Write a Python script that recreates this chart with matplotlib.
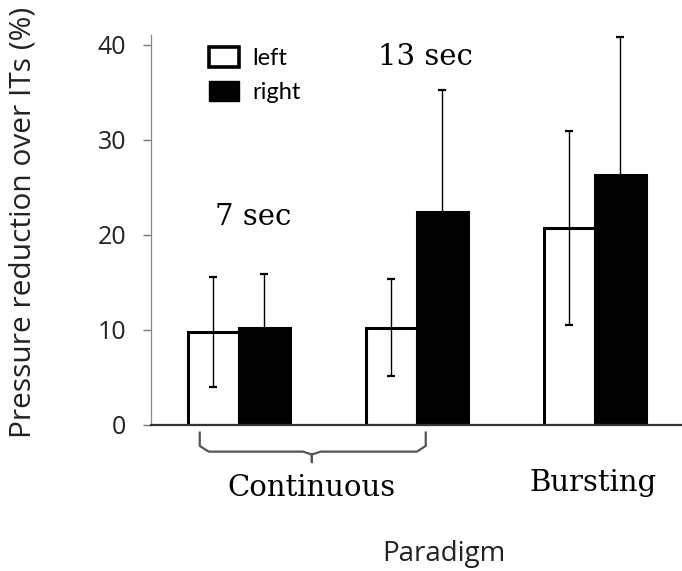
import matplotlib
matplotlib.use("Agg")
import matplotlib.pyplot as plt
from matplotlib.patches import Patch
import numpy as np

# valeurs
groups = ["7 sec", "13 sec", "Bursting"]
left_vals = [9.8, 10.2, 20.7]
left_err = [5.8, 5.1, 10.2]
right_vals = [10.2, 22.4, 26.3]
right_err = [5.7, 12.8, 14.5]

sans = "Open Sans"
serif = "DejaVu Serif"

fig = plt.figure(figsize=(6.82, 5.71), dpi=100)
ax = fig.add_axes([0.2214, 0.2557, 0.7786, 0.683])

x = np.arange(len(groups))
w = 0.287
ax.bar(x - w/2, left_vals, w, color="white", edgecolor="black", linewidth=2.2, zorder=2)
ax.bar(x + w/2, right_vals, w, color="black", edgecolor="black", linewidth=2.2, zorder=2)
ax.errorbar(x - w/2, left_vals, yerr=left_err, fmt="none", ecolor="black",
            elinewidth=1, capsize=3, capthick=1.6, zorder=3)
ax.errorbar(x + w/2, right_vals, yerr=right_err, fmt="none", ecolor="black",
            elinewidth=1, capsize=3, capthick=1.6, zorder=3)

ax.set_xlim(-0.494, 2.49)
ax.set_ylim(0, 41)
ax.set_yticks([0, 10, 20, 30, 40])
ax.set_xticks([])
ax.tick_params(axis="y", length=6, width=1, color="#777777", pad=12, labelsize=18,
               labelcolor="#222222")
for lab in ax.get_yticklabels():
    lab.set_fontfamily(sans)
ax.spines["top"].set_visible(False)
ax.spines["right"].set_visible(False)
ax.spines["left"].set_color("#888888")
ax.spines["left"].set_linewidth(0.9)
ax.spines["bottom"].set_color("#333333")
ax.spines["bottom"].set_linewidth(1.6)

ax.set_ylabel("Pressure reduction over ITs (%)", fontsize=21.5, family=sans,
              color="#222222")
ax.yaxis.set_label_coords(-0.213, 0.52)

# annotations
ax.text(0.08, 21.9, "7 sec", fontsize=21, family=serif, ha="center", va="center")
ax.text(1.05, 38.7, "13 sec", fontsize=21, family=serif, ha="center", va="center")
ax.text(0.41, -6.6, "Continuous", fontsize=21, family=serif, ha="center", va="center",
        clip_on=False)
ax.text(1.99, -6.1, "Bursting", fontsize=21, family=serif, ha="center", va="center",
        clip_on=False)
ax.text(1.15, -13.6, "Paradigm", fontsize=20, family=sans, ha="center", va="center",
        clip_on=False, color="#222222")

# accolade sous Continuous
bx0, bx1, bmid = -0.22, 1.05, 0.41
ytop, ymid, ytip = -0.8, -2.8, -3.9
r = 0.05
bx = [bx0, bx0, bx0 + r, bmid - r, bmid, bmid, bmid, bmid + r, bx1 - r, bx1, bx1]
by = [ytop, ymid + 0.6, ymid, ymid, ymid - 0.3, ytip, ymid - 0.3, ymid, ymid, ymid + 0.6, ytop]
ax.plot(bx, by, color="#555555", linewidth=1.6, clip_on=False, solid_joinstyle="round")

handles = [Patch(facecolor="white", edgecolor="black", linewidth=2.6, label="left"),
           Patch(facecolor="black", edgecolor="black", label="right")]
ax.legend(handles=handles, loc="upper left", bbox_to_anchor=(0.11, 0.97), frameon=False,
          borderpad=0, borderaxespad=0,
          handlelength=1.25, handleheight=0.95, handletextpad=0.55, labelspacing=0.5,
          prop={"family": "Lato", "size": 17})

fig.savefig("out.png", dpi=100)
